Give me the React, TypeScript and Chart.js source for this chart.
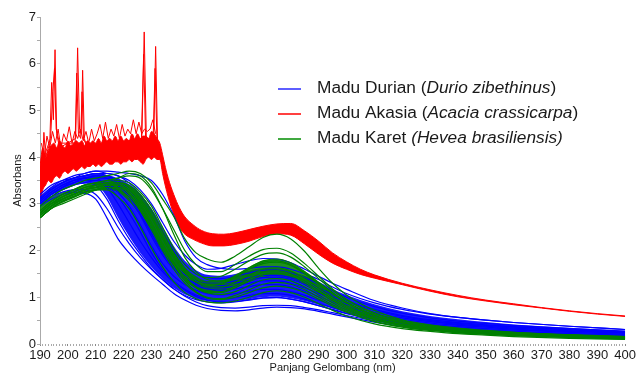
import React, { useEffect, useRef } from "react";
import { Chart, registerables } from "chart.js";

Chart.register(...registerables);

// Wavelength grid (nm) for the Durian / Karet spectra
const wavelengths = [190,194,198,202,206,210,214,218,222,226,230,234,238,242,246,250,255,260,265,270,275,280,285,290,295,300,310,320,330,340,350,360,380,400];

// Madu Durian (blue) spectra
const durian = [
  [3.2,3.4,3.5,3.6,3.65,3.7,3.7,3.68,3.65,3.6,3.5,3.2,2.75,2.2,1.85,1.7,1.62,1.6,1.62,1.65,1.65,1.6,1.5,1.38,1.22,1.08,0.88,0.74,0.64,0.57,0.51,0.46,0.38,0.31],
  [3.15,3.35,3.5,3.55,3.65,3.7,3.65,3.6,3.5,3.3,3.0,2.6,2.2,1.9,1.7,1.6,1.62,1.7,1.78,1.83,1.82,1.74,1.6,1.45,1.3,1.17,0.93,0.77,0.65,0.57,0.51,0.46,0.38,0.31],
  [3.1,3.3,3.45,3.55,3.6,3.65,3.65,3.6,3.45,3.2,2.85,2.4,2.0,1.7,1.5,1.42,1.4,1.45,1.52,1.58,1.58,1.52,1.42,1.28,1.14,1.0,0.8,0.66,0.56,0.49,0.44,0.4,0.33,0.27],
  [3.05,3.25,3.4,3.5,3.55,3.6,3.6,3.5,3.3,2.95,2.5,2.05,1.7,1.48,1.35,1.3,1.3,1.35,1.42,1.47,1.47,1.42,1.32,1.2,1.06,0.93,0.74,0.61,0.52,0.46,0.41,0.37,0.31,0.26],
  [3.0,3.2,3.35,3.45,3.55,3.55,3.55,3.4,3.15,2.75,2.3,1.9,1.6,1.4,1.28,1.22,1.2,1.24,1.3,1.35,1.35,1.3,1.2,1.08,0.96,0.85,0.68,0.56,0.48,0.42,0.38,0.34,0.28,0.24],
  [3.1,3.3,3.45,3.55,3.6,3.65,3.6,3.45,3.2,2.8,2.35,1.95,1.62,1.4,1.25,1.18,1.15,1.18,1.23,1.27,1.27,1.22,1.13,1.02,0.9,0.8,0.64,0.53,0.45,0.4,0.36,0.32,0.27,0.23],
  [3.0,3.2,3.35,3.45,3.5,3.5,3.45,3.25,2.95,2.55,2.1,1.72,1.45,1.27,1.15,1.08,1.05,1.08,1.13,1.17,1.17,1.12,1.04,0.94,0.84,0.74,0.59,0.49,0.42,0.37,0.33,0.3,0.25,0.21],
  [2.95,3.15,3.3,3.4,3.45,3.5,3.4,3.15,2.8,2.4,1.95,1.6,1.35,1.17,1.05,0.98,0.96,0.99,1.04,1.08,1.08,1.04,0.96,0.87,0.78,0.69,0.55,0.45,0.39,0.34,0.3,0.27,0.22,0.19],
  [3.05,3.25,3.4,3.5,3.55,3.55,3.35,3.0,2.6,2.2,1.85,1.55,1.32,1.15,1.02,0.94,0.9,0.91,0.95,0.99,1.0,0.96,0.9,0.82,0.73,0.65,0.52,0.43,0.37,0.32,0.29,0.26,0.21,0.18],
  [3.0,3.2,3.35,3.5,3.55,3.6,3.55,3.4,3.15,2.8,2.4,2.0,1.65,1.42,1.3,1.25,1.25,1.3,1.37,1.42,1.43,1.38,1.28,1.15,1.02,0.9,0.72,0.59,0.5,0.44,0.4,0.36,0.3,0.25],
  [3.0,3.2,3.3,3.4,3.45,3.4,3.1,2.65,2.25,1.92,1.62,1.38,1.18,1.04,0.95,0.9,0.88,0.9,0.94,0.98,0.99,0.96,0.9,0.82,0.74,0.66,0.53,0.44,0.37,0.32,0.28,0.25,0.2,0.17],
  [2.95,3.1,3.2,3.25,3.23,3.1,2.7,2.25,1.95,1.7,1.48,1.28,1.08,0.94,0.83,0.76,0.72,0.71,0.73,0.77,0.79,0.78,0.75,0.7,0.64,0.58,0.47,0.38,0.32,0.27,0.23,0.2,0.16,0.13],
  [3.0,3.15,3.25,3.3,3.3,3.2,2.9,2.5,2.15,1.85,1.6,1.38,1.18,1.02,0.9,0.82,0.78,0.77,0.79,0.82,0.83,0.82,0.78,0.73,0.67,0.61,0.5,0.41,0.34,0.29,0.25,0.22,0.18,0.15],
];
// Dense core of the Durian bundle
const durianCoreLow = [2.98,3.18,3.3,3.4,3.45,3.42,3.15,2.7,2.3,1.95,1.65,1.4,1.2,1.06,0.97,0.92,0.9,0.92,0.96,1.0,1.01,0.98,0.92,0.84,0.76,0.68,0.54,0.45,0.38,0.33,0.29,0.26,0.21,0.18];
const durianCoreHigh = [3.15,3.35,3.48,3.56,3.62,3.66,3.62,3.55,3.42,3.2,2.9,2.5,2.1,1.78,1.58,1.48,1.46,1.5,1.57,1.62,1.62,1.56,1.46,1.33,1.18,1.05,0.85,0.7,0.6,0.53,0.47,0.42,0.35,0.29];

// Madu Karet (green) spectra
const karet = [
  [2.95,3.15,3.3,3.4,3.5,3.55,3.6,3.65,3.7,3.65,3.45,3.1,2.73,2.25,1.95,1.82,1.75,1.88,2.08,2.28,2.35,2.25,1.98,1.62,1.3,1.05,0.72,0.52,0.41,0.34,0.29,0.25,0.2,0.16],
  [2.85,3.05,3.2,3.3,3.4,3.45,3.5,3.55,3.6,3.55,3.3,2.9,2.45,2.0,1.7,1.55,1.55,1.7,1.88,2.02,2.05,1.95,1.72,1.45,1.18,0.96,0.67,0.5,0.4,0.33,0.28,0.25,0.19,0.16],
  [2.8,3.0,3.15,3.25,3.35,3.4,3.45,3.5,3.45,3.25,2.95,2.5,2.05,1.7,1.5,1.42,1.45,1.6,1.78,1.92,1.95,1.86,1.65,1.4,1.15,0.94,0.65,0.48,0.38,0.32,0.27,0.24,0.19,0.15],
  [2.75,2.95,3.1,3.2,3.3,3.35,3.4,3.4,3.3,3.05,2.7,2.25,1.85,1.52,1.32,1.25,1.28,1.42,1.6,1.75,1.78,1.7,1.52,1.3,1.08,0.88,0.61,0.45,0.36,0.3,0.26,0.23,0.18,0.14],
  [2.8,3.0,3.1,3.2,3.3,3.4,3.45,3.45,3.35,3.1,2.75,2.3,1.88,1.55,1.33,1.22,1.22,1.32,1.47,1.6,1.63,1.56,1.4,1.2,1.0,0.82,0.57,0.42,0.34,0.28,0.24,0.21,0.16,0.13],
  [2.7,2.9,3.05,3.15,3.25,3.3,3.35,3.35,3.2,2.9,2.5,2.05,1.68,1.38,1.2,1.1,1.1,1.2,1.35,1.48,1.52,1.46,1.31,1.12,0.93,0.76,0.53,0.4,0.32,0.27,0.23,0.2,0.15,0.12],
  [2.75,2.95,3.1,3.2,3.3,3.35,3.4,3.4,3.3,3.0,2.6,2.15,1.75,1.43,1.22,1.1,1.06,1.12,1.25,1.37,1.4,1.35,1.22,1.05,0.88,0.73,0.52,0.39,0.31,0.26,0.22,0.19,0.15,0.12],
  [2.7,2.9,3.0,3.1,3.2,3.3,3.35,3.3,3.15,2.85,2.45,2.0,1.6,1.3,1.1,0.98,0.95,1.0,1.1,1.2,1.24,1.2,1.1,0.96,0.81,0.68,0.48,0.36,0.29,0.24,0.21,0.18,0.14,0.11],
  [2.8,3.0,3.15,3.25,3.35,3.4,3.45,3.45,3.4,3.2,2.85,2.4,1.95,1.6,1.38,1.28,1.3,1.45,1.63,1.78,1.82,1.74,1.55,1.32,1.1,0.9,0.62,0.46,0.37,0.31,0.27,0.24,0.19,0.15],
  [2.85,3.05,3.2,3.3,3.4,3.45,3.5,3.55,3.65,3.6,3.35,2.9,2.35,1.85,1.55,1.38,1.35,1.45,1.6,1.72,1.75,1.68,1.5,1.28,1.07,0.88,0.6,0.45,0.36,0.3,0.26,0.23,0.18,0.14],
  [2.7,2.9,3.05,3.15,3.25,3.3,3.35,3.35,3.25,2.95,2.55,2.1,1.7,1.35,1.12,1.0,0.97,1.04,1.16,1.28,1.32,1.28,1.16,1.0,0.84,0.7,0.49,0.37,0.3,0.25,0.21,0.18,0.14,0.11],
  [2.75,2.95,3.1,3.2,3.3,3.35,3.4,3.4,3.25,2.95,2.55,2.1,1.72,1.42,1.22,1.12,1.12,1.24,1.4,1.54,1.57,1.5,1.35,1.15,0.96,0.79,0.55,0.41,0.33,0.27,0.23,0.2,0.16,0.12],
  [2.7,2.9,3.05,3.15,3.25,3.3,3.3,3.15,2.9,2.5,2.05,1.65,1.33,1.1,0.97,0.9,0.88,0.92,1.0,1.1,1.14,1.1,1.0,0.86,0.72,0.6,0.43,0.33,0.27,0.22,0.19,0.16,0.12,0.1],
];
// Dense core of the Karet bundle
const karetCoreLow = [2.72,2.92,3.02,3.12,3.22,3.28,3.3,3.25,3.05,2.75,2.35,1.95,1.6,1.35,1.2,1.12,1.12,1.2,1.32,1.42,1.45,1.4,1.26,1.08,0.9,0.75,0.52,0.38,0.3,0.25,0.21,0.18,0.14,0.11];
const karetCoreHigh = [2.98,3.15,3.25,3.32,3.42,3.45,3.48,3.48,3.4,3.2,2.9,2.45,2.0,1.65,1.45,1.35,1.36,1.48,1.65,1.78,1.82,1.74,1.55,1.32,1.1,0.9,0.63,0.46,0.37,0.31,0.27,0.24,0.19,0.15];

// Madu Akasia (red) band: wavelength grid, lower and upper edges
const akasiaWl = [190,191,192,193,194,195,196,197,198,199,200,201,202,203,204,205,206,207,208,209,210,211,212,213,214,215,216,217,218,219,220,221,222,223,224,225,226,227,228,229,230,231,232,233,234,235,236,238,240,242,245,248,252,256,260,265,270,275,280,285,290,295,300,305,310,320,330,340,350,360,370,380,390,400];
const akasiaLower = [3.0,3.3,3.4,3.5,3.45,3.55,3.6,3.55,3.65,3.7,3.65,3.7,3.75,3.7,3.75,3.8,3.75,3.8,3.8,3.85,3.8,3.85,3.8,3.85,3.9,3.85,3.85,3.9,3.9,3.85,3.9,3.9,3.95,3.9,3.95,3.95,3.9,3.85,3.95,4.0,3.95,4.0,3.95,3.95,3.65,3.38,3.15,2.78,2.5,2.35,2.24,2.16,2.1,2.1,2.13,2.2,2.3,2.36,2.33,2.14,1.92,1.73,1.6,1.49,1.41,1.27,1.13,1.01,0.92,0.84,0.77,0.7,0.64,0.59];
const akasiaUpper = [3.8,4.2,4.0,4.15,4.25,4.3,4.2,4.35,4.25,4.2,4.35,4.25,4.3,4.35,4.3,4.35,4.25,4.35,4.3,4.35,4.3,4.4,4.3,4.45,4.35,4.4,4.35,4.45,4.35,4.45,4.35,4.4,4.35,4.5,4.4,4.5,4.4,4.45,4.45,4.4,4.55,4.5,4.4,4.3,4.05,3.78,3.55,3.2,2.92,2.72,2.55,2.43,2.36,2.35,2.38,2.45,2.52,2.57,2.58,2.42,2.2,1.95,1.76,1.6,1.48,1.3,1.16,1.04,0.94,0.86,0.78,0.71,0.65,0.6];

// Madu Akasia fine noise along the top of the band
const noiseWl = [190.5,191.5,192.5,193.5,194.5,195.5,196.5,197.5,198.5,199.5,200.5,201.5,202.5,203.5,204.5,205.5,206.5,207.5,208.5,209.5,210.5,211.5,212.5,213.5,214.5,215.5,216.5,217.5,218.5,219.5,220.5,221.5,222.5,223.5,224.5,225.5,226.5,227.5,228.5,229.5,230.5,231.5];
const noiseVal = [4.3,4.0,4.45,4.2,4.55,4.3,4.6,4.2,4.5,4.35,4.65,4.3,4.55,4.4,4.6,4.35,4.55,4.3,4.6,4.35,4.5,4.7,4.4,4.75,4.4,4.6,4.45,4.7,4.4,4.7,4.45,4.6,4.5,4.8,4.5,4.75,4.5,4.6,4.55,4.6,4.8,4.5];

// Madu Akasia noise spikes
const spikeWl1 = [190,191,191.4,192,193.5,194.2,194.8,195.4,196,197,202.8,203.5,204.2,204.8,205.3,205.9,207,212,226.5,227.4,228.2,230.8,231.5,232.2,233];
const spikeVal1 = [3.6,4.0,4.53,4.0,4.3,5.6,4.8,6.3,4.5,4.2,4.4,6.34,4.6,4.5,5.86,4.4,4.2,4.3,4.3,6.68,4.3,4.3,6.37,4.3,4.0];
const spikeWl2 = [190,192,193.8,194.6,195.2,195.8,197,202.6,203.2,203.8,204.6,205.1,205.6,207,226.4,227.2,227.9,230.6,231.3,232,233];
const spikeVal2 = [3.7,4.1,4.4,5.4,5.9,4.6,4.3,4.3,5.8,4.5,4.4,5.4,4.4,4.2,4.4,6.2,4.4,4.4,5.9,4.3,4.1];

const legendItems = [
  { color: "rgb(40,40,255)", parts: [["Madu Durian (", false], ["Durio zibethinus", true], [")", false]] },
  { color: "rgb(255,0,0)", parts: [["Madu Akasia (", false], ["Acacia crassicarpa", true], [")", false]] },
  { color: "rgb(0,140,0)", parts: [["Madu Karet ", false], ["(Hevea brasiliensis)", true]] },
];

const FONT = "'Liberation Sans', Arial, sans-serif";

const zip = (xs: number[], ys: number[]) => xs.map((x, i) => ({ x, y: ys[i] }));

const legendPlugin = {
  id: "customLegend",
  afterDraw(chart: any) {
    const ctx = chart.ctx;
    ctx.save();
    legendItems.forEach((it, i) => {
      const y = 88 + i * 25;
      ctx.strokeStyle = it.color;
      ctx.lineWidth = 1.5;
      ctx.beginPath();
      ctx.moveTo(278, y + 1);
      ctx.lineTo(301, y + 1);
      ctx.stroke();
      let x = 317;
      ctx.textBaseline = "middle";
      ctx.textAlign = "left";
      ctx.fillStyle = "#1a1a1a";
      it.parts.forEach(([text, italic]) => {
        ctx.font = `${italic ? "italic " : ""}17.3px ${FONT}`;
        ctx.fillText(text as string, x, y);
        x += ctx.measureText(text as string).width;
      });
    });
    ctx.restore();
  },
};

export default function App() {
  const ref = useRef<HTMLCanvasElement>(null);
  useEffect(() => {
    if (!ref.current) return;
    Chart.defaults.font.family = FONT;
    const BLUE = "rgb(0,0,255)";
    const RED = "rgb(255,0,0)";
    const GREEN = "rgb(0,128,0)";
    const line = (data: any[], color: string, order: number, extra: any = {}) => ({
      data,
      borderColor: color,
      backgroundColor: color,
      borderWidth: 1.2,
      pointRadius: 0,
      cubicInterpolationMode: "monotone",
      fill: false,
      order,
      ...extra,
    });
    const datasets: any[] = [];
    datasets.push(line(zip(akasiaWl, akasiaLower), RED, 6, { borderWidth: 1 }));
    datasets.push(line(zip(akasiaWl, akasiaUpper), RED, 6, { borderWidth: 1, fill: "-1" }));
    datasets.push(line(zip(noiseWl, noiseVal), RED, 6, { borderWidth: 1, cubicInterpolationMode: "default", tension: 0 }));
    datasets.push(line(zip(spikeWl1, spikeVal1), RED, 6, { borderWidth: 1, cubicInterpolationMode: "default", tension: 0 }));
    datasets.push(line(zip(spikeWl2, spikeVal2), RED, 6, { borderWidth: 1, cubicInterpolationMode: "default", tension: 0 }));
    datasets.push(line(zip(wavelengths, durianCoreLow), BLUE, 5, { borderWidth: 0 }));
    datasets.push(line(zip(wavelengths, durianCoreHigh), BLUE, 5, { borderWidth: 0, fill: "-1", backgroundColor: "rgba(0,0,255,0.9)" }));
    datasets.push(line(zip(wavelengths, karetCoreLow), GREEN, 4, { borderWidth: 0 }));
    datasets.push(line(zip(wavelengths, karetCoreHigh), GREEN, 4, { borderWidth: 0, fill: "-1", backgroundColor: "rgba(0,128,0,0.88)" }));
    durian.forEach((s) => datasets.push(line(zip(wavelengths, s), BLUE, 3)));
    karet.forEach((s) => datasets.push(line(zip(wavelengths, s), GREEN, 2)));

    const chart = new Chart(ref.current, {
      type: "line",
      data: { datasets },
      options: {
        animation: false,
        responsive: false,
        maintainAspectRatio: false,
        layout: { padding: { top: 17, right: 11, left: 0, bottom: 0 } },
        plugins: { legend: { display: false }, tooltip: { enabled: false } },
        scales: {
          x: {
            type: "linear",
            min: 190,
            max: 400,
            afterFit: (s: any) => { s.height = 32; },
            border: { display: false },
            grid: {
              drawOnChartArea: false,
              tickLength: 2,
              color: (c: any) => (c.tick && c.tick.value % 10 === 0 ? "#888" : "#aaa"),
            },
            ticks: {
              stepSize: 1,
              autoSkip: false,
              maxRotation: 0,
              padding: 2,
              color: "#1a1a1a",
              font: { size: 13 },
              callback: (v: any) => (Number(v) % 10 === 0 ? String(v) : ""),
            },
            title: {
              display: true,
              text: "Panjang Gelombang (nm)",
              color: "#1a1a1a",
              font: { size: 11 },
              padding: { top: 0, bottom: 1.4 },
            },
          },
          y: {
            min: 0,
            max: 7,
            afterFit: (s: any) => { s.width = 40; },
            border: { display: true, color: "#aaa", width: 1 },
            grid: { drawOnChartArea: false, tickLength: 3, color: "#aaa" },
            ticks: {
              stepSize: 0.5,
              autoSkip: false,
              padding: 1,
              color: "#1a1a1a",
              font: { size: 13 },
              callback: (v: any) => (Number.isInteger(Number(v)) ? String(v) : ""),
            },
            title: {
              display: true,
              text: "Absorbans",
              color: "#1a1a1a",
              font: { size: 11 },
              padding: { top: 11.4, bottom: 0 },
            },
          },
        },
      },
      plugins: [legendPlugin],
    });
    return () => chart.destroy();
  }, []);
  return (
    <div style={{ position: "fixed", left: 0, top: 0, width: 638, height: 376, background: "#fff" }}>
      <canvas ref={ref} width={638} height={376} />
    </div>
  );
}
